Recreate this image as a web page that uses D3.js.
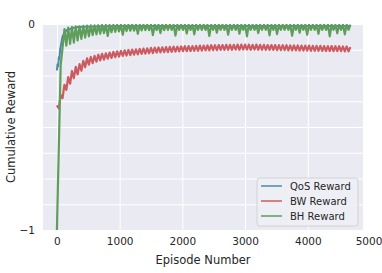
<!DOCTYPE html>
<html>
<head>
<meta charset="utf-8">
<script src="https://cdn.jsdelivr.net/npm/d3@7"></script>
<style>
body{margin:0;background:#fff;}
text{font-family:"DejaVu Sans",sans-serif;fill:#262626;}
</style>
</head>
<body>
<div id="chart"></div>
<script>
var episodes = d3.range(0, 4681, 30);

var bwReward = [
-0.395,-0.410,-0.345,-0.360,-0.295,-0.320,-0.258,-0.290,-0.228,-0.263,
-0.208,-0.245,-0.195,-0.227,-0.179,-0.210,-0.167,-0.197,-0.160,-0.190,
-0.155,-0.183,-0.149,-0.177,-0.145,-0.173,-0.142,-0.168,-0.139,-0.165,
-0.135,-0.161,-0.133,-0.158,-0.130,-0.155,-0.128,-0.153,-0.126,-0.151,
-0.124,-0.149,-0.123,-0.147,-0.121,-0.145,-0.119,-0.144,-0.118,-0.142,
-0.116,-0.141,-0.115,-0.139,-0.114,-0.138,-0.113,-0.137,-0.112,-0.136,
-0.111,-0.135,-0.110,-0.134,-0.110,-0.133,-0.109,-0.132,-0.108,-0.132,
-0.107,-0.131,-0.107,-0.130,-0.106,-0.130,-0.105,-0.129,-0.105,-0.128,
-0.104,-0.128,-0.103,-0.127,-0.103,-0.127,-0.102,-0.126,-0.102,-0.126,
-0.101,-0.125,-0.101,-0.125,-0.101,-0.124,-0.100,-0.125,-0.100,-0.124,
-0.100,-0.124,-0.100,-0.125,-0.101,-0.124,-0.100,-0.125,-0.101,-0.125,
-0.101,-0.126,-0.102,-0.126,-0.102,-0.126,-0.102,-0.127,-0.103,-0.127,
-0.103,-0.127,-0.103,-0.128,-0.104,-0.128,-0.104,-0.128,-0.104,-0.129,
-0.105,-0.129,-0.105,-0.129,-0.105,-0.130,-0.106,-0.130,-0.106,-0.130,
-0.106,-0.131,-0.107,-0.131,-0.107,-0.131,-0.107,-0.132,-0.108,-0.132,
-0.108,-0.132,-0.109,-0.133,-0.109,-0.133,-0.112
];

var bhReward = [
-1.000,-0.600,-0.200,-0.115,-0.025,-0.105,-0.018,-0.097,-0.014,-0.090,
-0.012,-0.080,-0.011,-0.072,-0.009,-0.066,-0.008,-0.060,-0.007,-0.054,
-0.007,-0.050,-0.006,-0.047,-0.005,-0.044,-0.005,-0.058,-0.005,-0.040,
-0.004,-0.038,-0.004,-0.036,-0.004,-0.052,-0.004,-0.034,-0.003,-0.033,
-0.003,-0.032,-0.003,-0.048,-0.003,-0.031,-0.003,-0.030,-0.003,-0.030,
-0.003,-0.054,-0.003,-0.030,-0.003,-0.044,-0.003,-0.030,-0.003,-0.029,
-0.003,-0.029,-0.003,-0.056,-0.003,-0.029,-0.003,-0.029,-0.003,-0.046,
-0.003,-0.029,-0.003,-0.050,-0.003,-0.029,-0.003,-0.029,-0.003,-0.029,
-0.003,-0.058,-0.003,-0.028,-0.003,-0.042,-0.003,-0.028,-0.003,-0.028,
-0.003,-0.052,-0.003,-0.028,-0.003,-0.028,-0.003,-0.047,-0.003,-0.028,
-0.003,-0.060,-0.003,-0.028,-0.003,-0.028,-0.003,-0.044,-0.003,-0.028,
-0.003,-0.028,-0.003,-0.055,-0.003,-0.028,-0.003,-0.049,-0.003,-0.028,
-0.003,-0.028,-0.003,-0.028,-0.003,-0.057,-0.003,-0.028,-0.003,-0.043,
-0.003,-0.028,-0.003,-0.052,-0.003,-0.028,-0.003,-0.028,-0.003,-0.048,
-0.003,-0.028,-0.003,-0.028,-0.003,-0.060,-0.003,-0.028,-0.003,-0.045,
-0.003,-0.028,-0.003,-0.050,-0.003,-0.028,-0.003
];

// QoS only shows at the start, the rest sits under the green line
var qosEpisodes = [0, 10, 20, 30, 40, 50, 60, 90, 150, 300, 600, 1000, 2000, 3000, 4000, 4680];
var qosReward = [-0.225, -0.195, -0.205, -0.16, -0.17, -0.125, -0.11, -0.06, -0.03, -0.015, -0.012, -0.01, -0.01, -0.01, -0.01, -0.01];

var xTicks = [0, 1000, 2000, 3000, 4000, 5000];
var yTicks = [0, -1];
var yGrid = [0, -0.125, -0.25, -0.375, -0.5, -0.625, -0.75, -0.875, -1];

var seriesNames = ["QoS Reward", "BW Reward", "BH Reward"];
var colors = ["#4a8aad", "#cd5a60", "#5f9e5a"];

var width = 382, height = 273;
var margin = {top: 24, right: 19, bottom: 43, left: 43};
var w = width - margin.left - margin.right;
var h = height - margin.top - margin.bottom;

var svg = d3.select("#chart").append("svg")
    .attr("width", width)
    .attr("height", height);

var g = svg.append("g")
    .attr("transform", "translate(" + margin.left + "," + margin.top + ")");

var x = d3.scaleLinear().domain([-222, 4880]).range([0, w]);
var y = d3.scaleLinear().domain([-1, 0]).range([h, 0]);

g.append("rect").attr("width", w).attr("height", h).attr("fill", "#eaeaf2");

// grid
g.append("g")
    .attr("transform", "translate(0," + h + ")")
    .call(d3.axisBottom(x).tickValues(xTicks.slice(0, 5)).tickSize(-h).tickFormat(""))
    .call(function(s) {
        s.select(".domain").remove();
        s.selectAll("line").attr("stroke", "#fff").attr("stroke-width", 1);
    });
g.append("g")
    .call(d3.axisLeft(y).tickValues(yGrid).tickSize(-w).tickFormat(""))
    .call(function(s) {
        s.select(".domain").remove();
        s.selectAll("line").attr("stroke", "#fff").attr("stroke-width", 1);
    });

// tick labels
g.append("g")
    .attr("transform", "translate(0," + h + ")")
    .call(d3.axisBottom(x).tickValues(xTicks).tickSize(0).tickPadding(8).tickFormat(d3.format("d")))
    .call(function(s) {
        s.select(".domain").remove();
        s.selectAll("text").style("font-size", "10.5px").style("font-family", "DejaVu Sans").attr("fill", "#262626");
        // last label sits right at the page edge
        s.selectAll("text").filter(function(d) { return d === 5000; }).attr("dx", "-2px");
    });
g.append("g")
    .call(d3.axisLeft(y).tickValues(yTicks).tickSize(0).tickPadding(8).tickFormat(d3.format("d")))
    .call(function(s) {
        s.select(".domain").remove();
        s.selectAll("text").style("font-size", "10.5px").style("font-family", "DejaVu Sans").attr("fill", "#262626");
    });

svg.append("text")
    .attr("x", margin.left + w / 2)
    .attr("y", 264)
    .attr("text-anchor", "middle")
    .style("font-size", "11.5px")
    .text("Episode Number");

svg.append("text")
    .attr("transform", "translate(15," + (margin.top + h / 2) + ")rotate(-90)")
    .attr("text-anchor", "middle")
    .style("font-size", "11.5px")
    .text("Cumulative Reward");

svg.append("defs").append("clipPath").attr("id", "clip")
    .append("rect").attr("width", w).attr("height", h);

var line = d3.line()
    .x(function(d) { return x(d[0]); })
    .y(function(d) { return y(d[1]); });

var lines = [
    d3.zip(qosEpisodes, qosReward),
    d3.zip(episodes, bwReward),
    d3.zip(episodes, bhReward)
];

// the noisy bands need a slightly heavier stroke to read solid like the original
g.append("g").attr("clip-path", "url(#clip)")
    .selectAll("path")
    .data(lines)
    .enter().append("path")
    .attr("d", line)
    .attr("fill", "none")
    .attr("stroke", function(d, i) { return colors[i]; })
    .attr("stroke-width", function(d, i) { return i == 0 ? 2 : 2.2; })
    .attr("stroke-linejoin", "round");

// legend
var lg = svg.append("g").attr("transform", "translate(257,178)");
lg.append("rect")
    .attr("width", 101).attr("height", 48)
    .attr("rx", 3)
    .attr("fill", "#eeeef5").attr("fill-opacity", 0.9)
    .attr("stroke", "#cccccc").attr("stroke-width", 0.8);

var item = lg.selectAll(".item")
    .data(seriesNames)
    .enter().append("g")
    .attr("transform", function(d, i) { return "translate(0," + (8 + i * 15) + ")"; });
item.append("line")
    .attr("x1", 4).attr("x2", 25)
    .attr("stroke", function(d, i) { return colors[i]; })
    .attr("stroke-width", 1.5);
item.append("text")
    .attr("x", 33).attr("dy", "0.35em")
    .style("font-size", "10px")
    .text(function(d) { return d; });
</script>
</body>
</html>
